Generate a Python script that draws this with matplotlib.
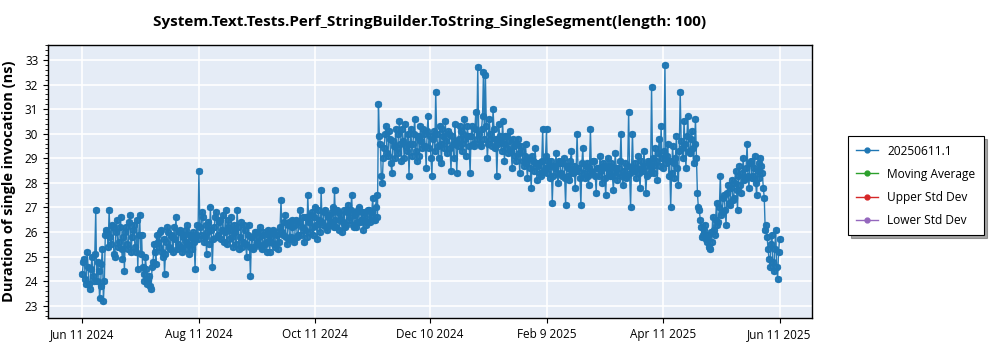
import matplotlib
matplotlib.use("Agg")
import matplotlib.pyplot as plt
import matplotlib.dates as mdates
from matplotlib.lines import Line2D
from matplotlib.ticker import MultipleLocator, FixedLocator
import pandas as pd

plt.rcParams["font.family"] = ["Open Sans", "DejaVu Sans"]

TITLE = "System.Text.Tests.Perf_StringBuilder.ToString_SingleSegment(length: 100)"
YLABEL = "Duration of single invocation (ns)"
START_DATE = "2024-06-11"
LEGEND_LABELS = ["20250611.1", "Moving Average", "Upper Std Dev", "Lower Std Dev"]
LEGEND_COLORS = ["#1f77b4", "#2ca02c", "#d62728", "#9467bd"]
XTICK_DATES = ["2024-06-11", "2024-08-11", "2024-10-11", "2024-12-10",
               "2025-02-09", "2025-04-11", "2025-06-11"]
XTICK_LABELS = ["Jun 11 2024", "Aug 11 2024", "Oct 11 2024", "Dec 10 2024",
                "Feb 9 2025", "Apr 11 2025", "Jun 11 2025"]
ERR = 0.08

# morning runs (one per day)
values_am = [
    24.3, 24.9, 23.9, 24.6, 23.7, 25.0, 24.0, 26.9, 24.8, 23.3,
    24.7, 23.2, 25.9, 26.0, 26.9, 25.5, 26.2, 25.0, 26.5, 25.6,
    26.6, 24.9, 24.4, 26.2, 25.3, 26.7, 25.8, 26.3, 25.2, 24.5,
    26.7, 25.9, 24.3, 25.0, 23.9, 24.2, 23.7, 24.8, 25.2, 25.9,
    25.4, 26.1, 25.0, 24.3, 25.6, 26.0, 25.3, 25.8, 26.2, 26.6,
    25.5, 26.1, 25.2, 25.9, 25.6, 26.3, 25.1, 25.8, 26.0, 24.5,
    26.3, 28.5, 25.9, 26.6, 25.8, 25.1, 26.4, 27.0, 24.6, 26.2,
    26.8, 25.9, 26.5, 26.1, 25.6, 26.9, 26.2, 25.7, 26.6, 25.4,
    26.0, 26.9, 25.3, 26.4, 25.6, 26.1, 25.0, 26.3, 24.2, 25.8,
    25.4, 26.0, 25.5, 26.2, 25.3, 25.9, 25.6, 26.1, 25.2, 25.8,
    26.1, 25.4, 25.9, 25.6, 27.3, 25.9, 26.7, 25.5, 26.4, 25.8,
    26.2, 25.6, 26.5, 25.9, 26.9, 26.2, 25.6, 26.6, 27.5, 26.0,
    26.8, 25.9, 27.0, 25.7, 26.5, 27.7, 26.3, 26.9, 26.1, 26.7,
    26.4, 27.0, 27.7, 26.2, 26.8, 26.5, 26.0, 26.9, 26.3, 27.1,
    26.6, 27.5, 26.2, 26.8, 26.4, 27.0, 26.5, 26.1, 26.8, 26.4,
    26.9, 26.6, 27.4, 26.5, 27.5, 31.2, 29.6, 28.0, 29.4, 30.3,
    29.1, 29.8, 28.4, 29.5, 30.2, 29.2, 30.5, 28.9, 29.7, 30.4,
    29.3, 28.3, 30.2, 29.6, 30.6, 28.9, 29.8, 30.3, 29.4, 30.0,
    28.6, 30.7, 29.9, 28.3, 30.1, 31.7, 29.5, 30.3, 28.8, 29.9,
    30.5, 29.2, 30.0, 28.5, 29.6, 30.4, 28.4, 29.8, 30.1, 29.3,
    30.6, 29.1, 29.9, 28.4, 30.3, 29.5, 30.9, 32.7, 29.6, 30.2,
    32.5, 32.4, 29.0, 30.6, 29.8, 31.0, 29.4, 28.3, 30.4, 29.7,
    30.5, 28.9, 29.9, 29.2, 30.1, 28.6, 29.5, 28.9, 29.8, 28.4,
    29.3, 28.7, 29.6, 28.2, 29.0, 27.8, 28.9, 29.4, 28.1, 28.8,
    28.3, 30.2, 28.6, 30.2, 28.9, 28.2, 27.2, 28.7, 29.2, 28.0,
    28.8, 28.3, 29.0, 27.1, 28.6, 28.1, 29.3, 28.4, 27.8, 30.0,
    28.5, 27.1, 29.4, 28.2, 28.8, 27.9, 30.2, 28.4, 28.9, 27.6,
    28.6, 29.1, 28.0, 28.7, 27.5, 29.0, 28.3, 28.8, 27.7, 29.2,
    28.1, 28.6, 30.0, 27.9, 28.8, 28.3, 30.9, 27.0, 30.0, 28.5,
    28.2, 29.1, 27.8, 28.6, 29.3, 27.6, 28.9, 28.4, 31.9, 28.7,
    29.4, 28.1, 29.8, 30.3, 28.6, 32.8, 29.1, 28.3, 27.0, 29.5,
    28.2, 29.9, 27.9, 31.7, 29.4, 30.5, 28.6, 30.7, 29.2, 30.1,
    28.8, 30.6, 27.6, 26.9, 26.2, 25.9, 26.3, 25.6, 25.4, 26.0,
    26.6, 25.9, 27.2, 26.4, 28.3, 26.8, 27.5, 26.3, 27.9, 27.1,
    28.1, 27.4, 28.5, 26.9, 28.7, 27.6, 29.0, 28.2, 29.6, 27.8,
    28.9, 28.3, 29.1, 27.5, 28.8, 29.0, 28.4, 27.4, 26.3, 25.3,
    24.6, 25.9, 24.4, 26.1, 24.1, 25.7,
]

# evening runs (one per day, 12 h later)
values_pm = [
    24.8, 24.1, 25.2, 23.9, 24.5, 24.2, 25.1, 24.0, 24.4, 23.8,
    25.3, 24.0, 26.1, 25.4, 25.8, 26.3, 25.1, 26.0, 25.4, 26.2,
    25.3, 25.8, 26.0, 25.5, 26.4, 25.2, 26.1, 25.4, 26.5, 25.9,
    25.1, 24.6, 24.0, 24.5, 24.1, 23.8, 24.6, 25.5, 24.7, 25.6,
    26.0, 25.2, 25.7, 25.1, 26.2, 25.4, 25.9, 25.2, 25.7, 25.3,
    26.0, 25.4, 25.8, 25.3, 26.1, 25.5, 25.9, 25.3, 25.6, 25.9,
    25.7, 26.2, 26.8, 25.6, 26.3, 26.0, 25.5, 26.1, 25.7, 26.6,
    25.8, 26.4, 25.7, 26.7, 26.0, 25.5, 26.5, 26.1, 25.8, 26.3,
    25.5, 26.2, 25.8, 25.4, 26.3, 25.5, 25.9, 25.4, 25.8, 25.3,
    26.0, 25.6, 25.8, 25.4, 26.0, 25.5, 25.2, 25.9, 25.6, 26.0,
    25.5, 26.0, 25.3, 26.2, 26.0, 26.4, 25.8, 26.3, 25.7, 26.5,
    25.7, 26.3, 25.8, 26.4, 25.9, 26.6, 26.1, 25.8, 26.4, 26.7,
    26.2, 26.6, 26.3, 26.9, 26.0, 26.4, 26.8, 26.2, 26.6, 26.3,
    26.8, 26.2, 26.5, 26.9, 26.1, 26.7, 26.4, 26.2, 26.8, 26.5,
    26.9, 26.3, 26.7, 26.2, 26.9, 26.4, 26.8, 26.6, 26.3, 26.9,
    26.4, 26.8, 26.5, 27.0, 26.6, 29.9, 28.3, 29.0, 30.0, 29.2,
    30.1, 28.8, 29.7, 29.0, 29.4, 30.0, 29.6, 30.2, 29.0, 29.5,
    30.0, 29.6, 29.1, 30.0, 29.3, 29.9, 29.1, 29.7, 30.2, 29.5,
    30.1, 29.4, 29.0, 29.8, 29.3, 30.0, 29.0, 29.6, 30.2, 29.4,
    29.7, 30.1, 29.4, 29.9, 29.0, 29.7, 29.5, 30.3, 29.6, 30.0,
    29.8, 30.3, 29.5, 29.9, 29.6, 30.2, 29.8, 30.0, 29.5, 30.7,
    29.8, 30.3, 29.6, 30.0, 29.5, 30.2, 29.8, 29.6, 29.9, 29.3,
    29.6, 29.9, 29.4, 29.7, 29.3, 29.8, 29.1, 29.6, 29.2, 29.5,
    28.9, 29.1, 28.8, 29.0, 28.6, 29.1, 28.5, 28.8, 28.7, 28.4,
    28.9, 28.5, 29.1, 28.4, 28.7, 28.9, 28.3, 28.6, 28.4, 28.9,
    28.4, 28.8, 28.2, 28.7, 28.3, 28.9, 28.5, 28.7, 28.5, 28.6,
    28.2, 28.8, 28.4, 28.7, 28.3, 28.6, 28.5, 28.9, 28.3, 28.6,
    28.3, 28.5, 28.8, 28.2, 28.6, 28.4, 28.7, 28.3, 28.5, 28.6,
    28.4, 28.9, 28.3, 28.5, 28.2, 28.7, 28.4, 28.6, 28.5, 28.8,
    28.6, 28.4, 28.9, 28.5, 28.7, 28.3, 28.8, 28.6, 29.0, 28.4,
    28.9, 29.2, 28.7, 29.0, 29.3, 28.8, 29.6, 28.9, 28.4, 28.8,
    29.0, 28.6, 29.3, 29.7, 29.0, 29.6, 29.9, 29.3, 29.8, 29.4,
    29.6, 29.0, 27.0, 26.5, 25.8, 26.1, 25.7, 25.9, 25.3, 25.6,
    26.1, 26.5, 26.3, 27.0, 26.7, 27.4, 26.9, 27.6, 27.2, 27.8,
    27.3, 28.0, 27.7, 28.3, 27.9, 28.4, 28.1, 28.6, 28.3, 28.8,
    28.2, 28.6, 28.0, 28.5, 28.2, 28.7, 27.8, 26.1, 25.8, 24.9,
    25.5, 24.8, 25.3, 24.6, 25.2,
]

values = []
for i, v in enumerate(values_am):
    values.append(v)
    if i < len(values_pm):
        values.append(values_pm[i])

dates = pd.date_range(START_DATE, periods=len(values), freq="12h")

fig = plt.figure(figsize=(10, 3.5), dpi=100)
ax = fig.add_axes([0.048, 0.091, 0.764, 0.780])
ax.set_facecolor("#E5ECF6")

ax.errorbar(dates, values, yerr=ERR, color="#1f77b4", linewidth=1.0,
            marker="o", markersize=4.3, capsize=2, elinewidth=0.8,
            alpha=0.95, zorder=3)

ax.set_ylim(22.5, 33.6)
ax.set_xlim(pd.Timestamp("2024-05-24"), pd.Timestamp("2025-06-28"))
ax.yaxis.set_major_locator(MultipleLocator(1))
ax.yaxis.set_minor_locator(MultipleLocator(0.2))
ax.xaxis.set_major_locator(FixedLocator(mdates.date2num(pd.to_datetime(XTICK_DATES))))
ax.set_xticklabels(XTICK_LABELS)
ax.tick_params(axis="both", labelsize=8.5, direction="out")
ax.tick_params(axis="y", which="minor", length=2)
ax.grid(True, which="major", color="white", linewidth=1.2, zorder=0)
ax.set_axisbelow(True)
for s in ax.spines.values():
    s.set_color("black")
    s.set_linewidth(1.0)

ax.set_title(TITLE, fontsize=11, fontweight="bold", pad=14)
ax.set_ylabel(YLABEL, fontsize=10.5, fontweight="bold", labelpad=6)

handles = [Line2D([0], [0], color=c, marker="o", markersize=3.5, linewidth=1.0)
           for c in LEGEND_COLORS]
leg = fig.legend(handles, LEGEND_LABELS, loc="upper left",
                 bbox_to_anchor=(0.848, 0.611), borderaxespad=0.0,
                 fontsize=8.6, frameon=True, fancybox=False, shadow=True,
                 handlelength=1.8, borderpad=0.7, labelspacing=0.85)
leg.get_frame().set_edgecolor("black")
leg.get_frame().set_linewidth(0.8)

fig.savefig("out.png", dpi=100)
